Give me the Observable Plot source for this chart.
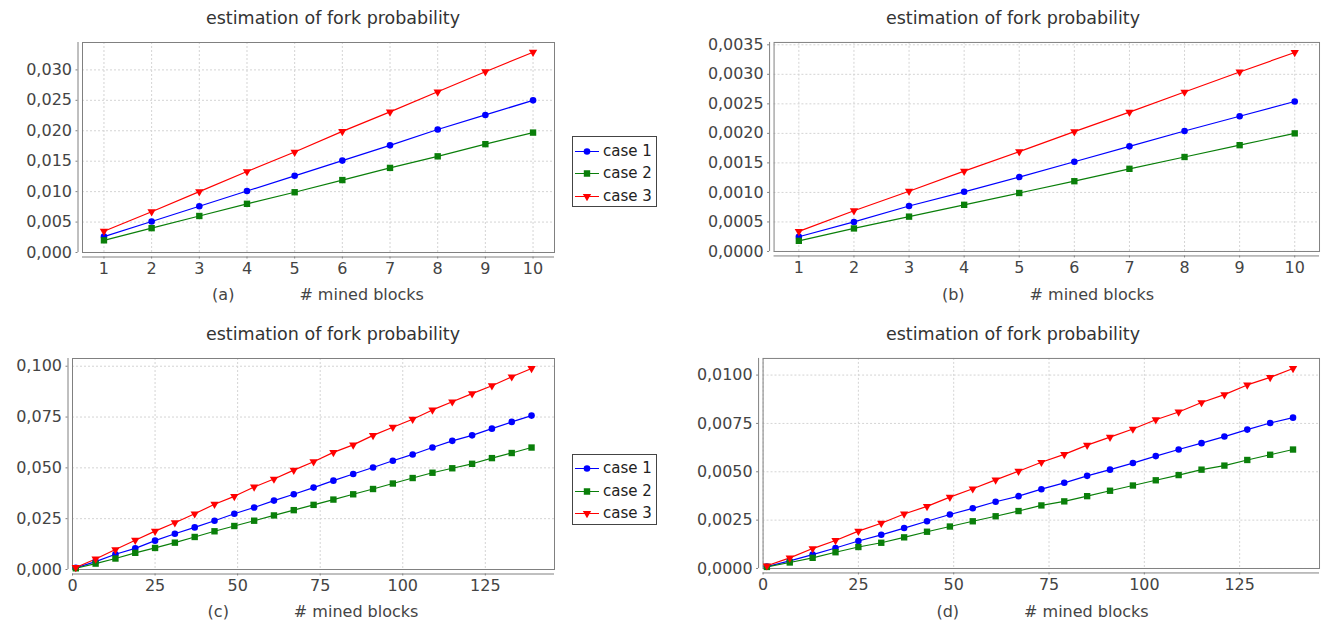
<!DOCTYPE html>
<html><head><meta charset="utf-8">
<script src="https://cdn.jsdelivr.net/npm/d3@7"></script>
<script src="https://cdn.jsdelivr.net/npm/@observablehq/plot@0.6"></script>
<style>
html,body{margin:0;padding:0;background:#fff;}
#root{position:relative;width:1325px;height:622px;overflow:hidden;font-family:"DejaVu Sans",sans-serif;}
.lbl{position:absolute;transform:translate(-50%,-50%);white-space:pre;line-height:1;}
.title{font-size:17.5px;color:#333;}
.xlab{font-size:16px;color:#444;}
.legend{position:absolute;border:1px solid #444;background:#fff;box-sizing:border-box;}
.item{position:absolute;left:0;display:flex;align-items:center;font-size:15px;color:#222;line-height:1;white-space:nowrap;transform:translateY(-50%);}
.chart{position:absolute;}
</style></head><body><div id="root"></div>
<script>
// ---------- data ----------
const seriesNames = ["case 1", "case 2", "case 3"];
const panelTags = ["(a)", "(b)", "(c)", "(d)"];
const titleText = "estimation of fork probability";
const xLabelText = "# mined blocks";

const xSmall = [1, 2, 3, 4, 5, 6, 7, 8, 9, 10];
const xLarge = [1, 7, 13, 19, 25, 31, 37, 43, 49, 55, 61, 67, 73, 79, 85, 91, 97, 103, 109, 115, 121, 127, 133, 139];

const aCase1 = [0.0026, 0.0051, 0.0076, 0.0101, 0.0126, 0.0151, 0.0176, 0.0202, 0.0226, 0.0250];
const aCase2 = [0.0020, 0.0040, 0.0060, 0.0080, 0.0099, 0.0119, 0.0139, 0.0158, 0.0178, 0.0197];
const aCase3 = [0.0035, 0.0067, 0.0100, 0.0133, 0.0165, 0.0199, 0.0231, 0.0264, 0.0297, 0.0329];

const bCase1 = [0.00025, 0.00050, 0.00077, 0.00101, 0.00126, 0.00152, 0.00178, 0.00204, 0.00229, 0.00254];
const bCase2 = [0.00018, 0.00039, 0.00059, 0.00079, 0.00099, 0.00119, 0.00140, 0.00160, 0.00180, 0.00200];
const bCase3 = [0.00034, 0.00069, 0.00102, 0.00136, 0.00169, 0.00203, 0.00236, 0.00270, 0.00304, 0.00337];

const cCase1 = [0.0008, 0.0039, 0.0075, 0.0104, 0.0142, 0.0176, 0.0207, 0.0240, 0.0274, 0.0305, 0.0339, 0.0370, 0.0403, 0.0437, 0.0470, 0.0502, 0.0535, 0.0566, 0.0600, 0.0633, 0.0660, 0.0693, 0.0726, 0.0757];
const cCase2 = [0.0006, 0.0029, 0.0054, 0.0082, 0.0106, 0.0132, 0.0160, 0.0188, 0.0214, 0.0240, 0.0266, 0.0292, 0.0318, 0.0344, 0.0370, 0.0396, 0.0423, 0.0450, 0.0476, 0.0498, 0.0520, 0.0548, 0.0573, 0.0600];
const cCase3 = [0.0010, 0.0052, 0.0098, 0.0144, 0.0189, 0.0230, 0.0274, 0.0321, 0.0360, 0.0406, 0.0445, 0.0489, 0.0530, 0.0576, 0.0613, 0.0660, 0.0700, 0.0739, 0.0785, 0.0825, 0.0865, 0.0904, 0.0948, 0.0989];

const dCase1 = [0.00010, 0.00039, 0.00072, 0.00106, 0.00142, 0.00174, 0.00209, 0.00244, 0.00279, 0.00311, 0.00345, 0.00374, 0.00410, 0.00443, 0.00479, 0.00511, 0.00545, 0.00581, 0.00615, 0.00648, 0.00682, 0.00718, 0.00752, 0.00780];
const dCase2 = [0.00008, 0.00031, 0.00055, 0.00084, 0.00111, 0.00133, 0.00161, 0.00190, 0.00217, 0.00244, 0.00270, 0.00297, 0.00326, 0.00347, 0.00374, 0.00402, 0.00429, 0.00456, 0.00483, 0.00511, 0.00532, 0.00561, 0.00588, 0.00615];
const dCase3 = [0.00014, 0.00055, 0.00103, 0.00145, 0.00193, 0.00234, 0.00282, 0.00321, 0.00369, 0.00412, 0.00458, 0.00503, 0.00549, 0.00590, 0.00638, 0.00679, 0.00721, 0.00769, 0.00809, 0.00858, 0.00899, 0.00949, 0.00988, 0.01034];

// tick labels
const xTicksSmall = [1, 2, 3, 4, 5, 6, 7, 8, 9, 10];
const xTicksLarge = [0, 25, 50, 75, 100, 125];
const yTicksA = [0, 0.005, 0.010, 0.015, 0.020, 0.025, 0.030];
const yTicksB = [0, 0.0005, 0.0010, 0.0015, 0.0020, 0.0025, 0.0030, 0.0035];
const yTicksC = [0, 0.025, 0.050, 0.075, 0.100];
const yTicksD = [0, 0.0025, 0.0050, 0.0075, 0.0100];

// ---------- styles ----------
const BLUE = "#0000ff", GREEN = "#0a7f0a", RED = "#ff0000";
const GRID = "#d4d4d4", AXIS = "#808080", TEXT = "#444";
const triangleDown = {
  draw(ctx, size) {
    const s = Math.sqrt(size * 4 / Math.sqrt(3));
    const h = s * Math.sqrt(3) / 2;
    ctx.moveTo(-s / 2, -h / 3);
    ctx.lineTo(s / 2, -h / 3);
    ctx.lineTo(0, 2 * h / 3);
    ctx.closePath();
  }
};
const seriesStyle = [
  {color: BLUE, symbol: "circle", r: 3.3},
  {color: GREEN, symbol: "square", r: 3.6},
  {color: RED, symbol: triangleDown, r: 3.1}
];

const root = document.getElementById("root");

function addLabel(html, x, y, cls) {
  const d = document.createElement("div");
  d.className = "lbl " + cls;
  d.style.left = x + "px";
  d.style.top = y + "px";
  d.innerHTML = html;
  root.appendChild(d);
}

function drawPanel(p) {
  const [fx0, fy0, fx1, fy1] = p.frame;
  const padL = 95, padT = 12, padR = 6, padB = 38;
  const svgLeft = fx0 - padL, svgTop = fy0 - padT;
  const fmt = d => d.toFixed(p.digits).replace(".", ",");
  const marks = [
    Plot.gridX(p.xTicks, {stroke: GRID, strokeOpacity: 1, strokeDasharray: "2,2"}),
    Plot.gridY(p.yTicks, {stroke: GRID, strokeOpacity: 1, strokeDasharray: "2,2"}),
    Plot.frame({stroke: AXIS}),
    Plot.ruleX([p.xDomain[0]], {dx: -4.5, stroke: AXIS}),
    Plot.ruleY([p.yDomain[0]], {dy: 4.5, stroke: AXIS}),
    Plot.axisX(p.xTicks, {tickSize: 2, tickPadding: 4, dy: 4.5, stroke: AXIS, fill: TEXT, fontSize: 16, label: null, tickFormat: d => String(d)}),
    Plot.axisY(p.yTicks, {tickSize: 2, tickPadding: 4, dx: -4.5, stroke: AXIS, fill: TEXT, fontSize: 16, label: null, tickFormat: fmt})
  ];
  p.series.forEach((ys, k) => {
    const rows = p.xs.map((x, i) => ({x, y: ys[i], s: seriesNames[k]}));
    marks.push(Plot.line(rows, {x: "x", y: "y", stroke: seriesStyle[k].color, strokeWidth: 1.2}));
  });
  p.series.forEach((ys, k) => {
    const rows = p.xs.map((x, i) => ({x, y: ys[i], s: seriesNames[k]}));
    marks.push(Plot.dot(rows, {x: "x", y: "y", fill: seriesStyle[k].color, stroke: "none", symbol: seriesStyle[k].symbol, r: seriesStyle[k].r}));
  });
  const chart = Plot.plot({
    width: (fx1 - fx0) + padL + padR,
    height: (fy1 - fy0) + padT + padB,
    marginLeft: padL, marginRight: padR, marginTop: padT, marginBottom: padB,
    style: {fontFamily: "'DejaVu Sans', sans-serif", fontSize: "16px", color: TEXT, background: "transparent", overflow: "visible"},
    x: {domain: p.xDomain},
    y: {domain: p.yDomain},
    marks
  });
  const wrap = document.createElement("div");
  wrap.className = "chart";
  wrap.style.left = svgLeft + "px";
  wrap.style.top = svgTop + "px";
  wrap.appendChild(chart);
  root.appendChild(wrap);
  addLabel(titleText, p.titleX, p.titleY, "title");
  addLabel(`<span>${p.tag}</span><span style="margin-left:65px">${xLabelText}</span>`, (fx0 + fx1) / 2, p.xlabY, "xlab");
}

function drawLegend(x0, y0, w, h, rowYs) {
  const box = document.createElement("div");
  box.className = "legend";
  box.style.left = x0 + "px"; box.style.top = y0 + "px";
  box.style.width = w + "px"; box.style.height = h + "px";
  seriesNames.forEach((name, k) => {
    const st = seriesStyle[k];
    const it = document.createElement("div");
    it.className = "item";
    it.style.top = (rowYs[k] - y0) + "px";
    it.style.left = "1px";
    const sym = typeof st.symbol === "string" ? (st.symbol === "circle" ? d3.symbolCircle : d3.symbolSquare) : st.symbol;
    const path = d3.symbol(sym, Math.PI * st.r * st.r)();
    it.innerHTML = `<svg width="26" height="12" style="display:block"><line x1="1" x2="25" y1="6" y2="6" stroke="${st.color}" stroke-width="1.2"/><path d="${path}" transform="translate(13,6)" fill="${st.color}"/></svg><span style="margin-left:3px">${name}</span>`;
    box.appendChild(it);
  });
  root.appendChild(box);
}

drawPanel({frame: [82, 42, 554, 252], xDomain: [0.55, 10.45], yDomain: [0, 0.0345], xTicks: xTicksSmall, yTicks: yTicksA, digits: 3,
  xs: xSmall, series: [aCase1, aCase2, aCase3], tag: panelTags[0], titleX: 333, titleY: 19, xlabY: 295});
drawPanel({frame: [774, 42, 1322, 252], xDomain: [0.55, 10.45], yDomain: [0, 0.00354], xTicks: xTicksSmall, yTicks: yTicksB, digits: 4,
  xs: xSmall, series: [bCase1, bCase2, bCase3], tag: panelTags[1], titleX: 1013, titleY: 19, xlabY: 295});
drawPanel({frame: [72, 358, 554, 569], xDomain: [0, 145.95], yDomain: [0, 0.1038], xTicks: xTicksLarge, yTicks: yTicksC, digits: 3,
  xs: xLarge, series: [cCase1, cCase2, cCase3], tag: panelTags[2], titleX: 333, titleY: 335, xlabY: 612});
drawPanel({frame: [763, 358, 1322, 569], xDomain: [0, 145.95], yDomain: [0, 0.01086], xTicks: xTicksLarge, yTicks: yTicksD, digits: 4,
  xs: xLarge, series: [dCase1, dCase2, dCase3], tag: panelTags[3], titleX: 1013, titleY: 335, xlabY: 612});

drawLegend(572, 136, 85, 71, [150, 172, 195]);
drawLegend(572, 454, 85, 71, [467, 490, 512]);
</script></body></html>
